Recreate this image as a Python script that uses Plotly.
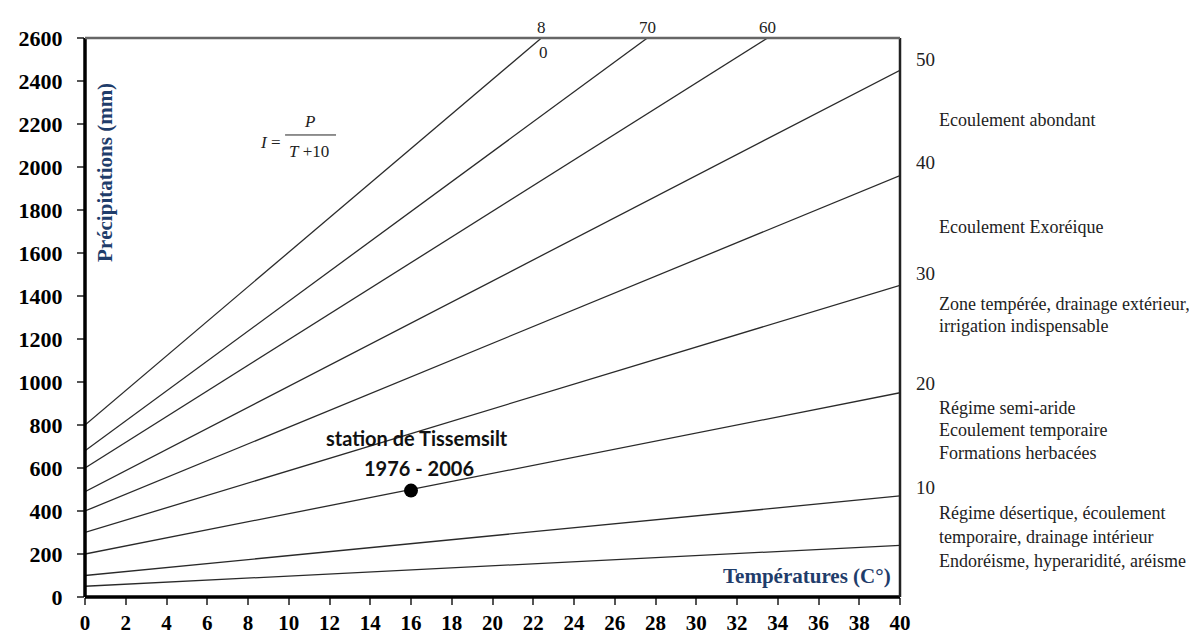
import plotly.graph_objects as go

# De Martonne index lines
indices = [5, 10, 20, 30, 40, 50, 60, 70, 80]
p_at_t0 = [50, 100, 200, 300, 400, 490, 600, 680, 800]
end_t = [40, 40, 40, 40, 40, 40, 33.5, 27.6, 22.4]
end_p = [240, 470, 950, 1450, 1960, 2450, 2600, 2600, 2600]

# station point
station_t = [16]
station_p = [495]

# right-side index labels
right_labels = ["50", "40", "30", "20", "10"]
right_label_p = [2500, 2020, 1505, 995, 510]

# zone descriptions
zone_lines = [
    ("Ecoulement abondant", 2220),
    ("Ecoulement Exoréique", 1720),
    ("Zone tempérée, drainage extérieur,", 1365),
    ("irrigation indispensable", 1262),
    ("Régime semi-aride", 880),
    ("Ecoulement temporaire", 775),
    ("Formations herbacées", 668),
    ("Régime désertique, écoulement", 390),
    ("temporaire, drainage intérieur", 280),
    ("Endoréisme, hyperaridité, aréisme", 168),
]

x_ticks = list(range(0, 41, 2))
y_ticks = list(range(0, 2601, 200))

fig = go.Figure()
for i, p0, t1, p1 in zip(indices, p_at_t0, end_t, end_p):
    fig.add_trace(go.Scatter(x=[0, t1], y=[p0, p1], mode="lines",
                             line=dict(color="#2a2a2a", width=1.3),
                             showlegend=False, hoverinfo="skip"))

fig.add_trace(go.Scatter(x=station_t, y=station_p, mode="markers",
                         marker=dict(color="black", size=14),
                         showlegend=False))

serif = "Liberation Serif"
ann = []
ann.append(dict(x=16.3, y=740, text="station de Tissemsilt",
                showarrow=False, font=dict(family="Lato", size=20, color="#111", weight="bold")))
ann.append(dict(x=16.4, y=600, text="1976 - 2006",
                showarrow=False, font=dict(family="Lato", size=20, color="#111", weight="bold")))

# formula I = P / (T+10)
ann.append(dict(x=9.72, y=2112, text="<i>I</i> =", showarrow=False, xanchor="right",
                font=dict(family=serif, size=17, color="#222")))
ann.append(dict(x=11.04, y=2210, text="<i>P</i>", showarrow=False,
                font=dict(family=serif, size=17, color="#222")))
ann.append(dict(x=11.0, y=2070, text="<i>T</i> +10", showarrow=False,
                font=dict(family=serif, size=17, color="#222")))
fig.add_shape(type="line", x0=9.82, x1=12.32, y0=2149, y1=2149,
              line=dict(color="#222", width=1))

# axis titles inside plot
ann.append(dict(x=0.98, y=1977, text="<b>Précipitations (mm)</b>", showarrow=False,
                textangle=-90, font=dict(family=serif, size=21, color="#1f3d6b")))
ann.append(dict(x=39.65, y=100, text="<b>Températures (C°)</b>", showarrow=False,
                xanchor="right", font=dict(family=serif, size=21, color="#1f3d6b")))

# top labels for lines exiting the top
ann.append(dict(x=22.4, y=2600, text="8", showarrow=False, yanchor="bottom", yshift=-1,
                font=dict(family=serif, size=17, color="#222")))
ann.append(dict(x=22.5, y=2600, text="0", showarrow=False, yanchor="top", yshift=-3,
                font=dict(family=serif, size=17, color="#222")))
ann.append(dict(x=27.6, y=2600, text="70", showarrow=False, yanchor="bottom", yshift=-1,
                font=dict(family=serif, size=17, color="#222")))
ann.append(dict(x=33.5, y=2600, text="60", showarrow=False, yanchor="bottom", yshift=-1,
                font=dict(family=serif, size=17, color="#222")))

for lab, p in zip(right_labels, right_label_p):
    ann.append(dict(x=40, y=p, text=lab, showarrow=False, xanchor="left", xshift=14,
                    font=dict(family=serif, size=19, color="#222")))
for txt, p in zone_lines:
    ann.append(dict(x=40, y=p, text=txt, showarrow=False, xanchor="left", xshift=37,
                    font=dict(family=serif, size=18, color="#222")))

fig.update_layout(
    width=1189, height=629,
    margin=dict(l=77, r=297, t=30, b=40, autoexpand=False),
    plot_bgcolor="white", paper_bgcolor="white",
    annotations=ann,
    xaxis=dict(range=[0, 40], tickvals=x_ticks, showgrid=False, zeroline=False,
               automargin=False,
               ticks="outside", ticklen=7, tickcolor="#555", tickwidth=1.5,
               ticklabelstandoff=0,
               tickfont=dict(family=serif, size=21, color="black", weight="bold"),
               showline=False),
    yaxis=dict(range=[0, 2600], tickvals=y_ticks, showgrid=False, zeroline=False,
               automargin=False,
               ticks="outside", ticklen=7, tickcolor="#555", tickwidth=1.5,
               ticklabelstandoff=10,
               tickfont=dict(family=serif, size=22, color="black", weight="bold"),
               showline=False),
)
# frame: thick left/bottom, thinner right, grey top
fig.add_shape(type="line", xref="paper", yref="paper", x0=0, x1=0, y0=0, y1=1,
              line=dict(color="black", width=3.5))
fig.add_shape(type="line", xref="paper", yref="paper", x0=0, x1=1, y0=0, y1=0,
              line=dict(color="black", width=3.5))
fig.add_shape(type="line", xref="paper", yref="paper", x0=1, x1=1, y0=0, y1=1,
              line=dict(color="#222", width=2.5))
fig.add_shape(type="line", xref="paper", yref="paper", x0=0, x1=1, y0=1, y1=1,
              line=dict(color="#666", width=2.5))

fig.write_html("out.html")
